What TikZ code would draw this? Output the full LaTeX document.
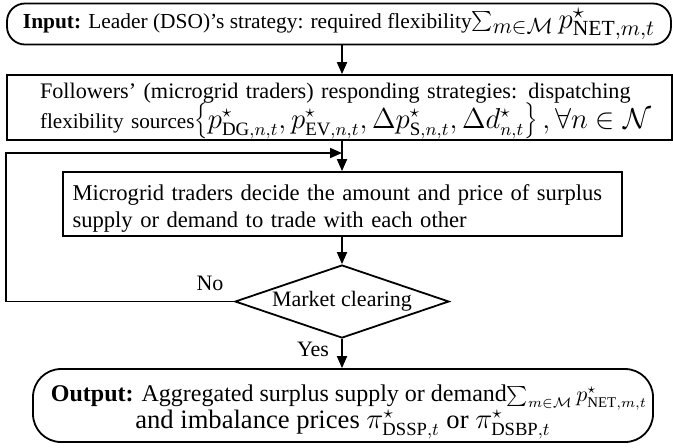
\documentclass[tikz,border=0pt]{standalone}
\usepackage{fontspec}
\setmainfont{Liberation Serif}
\usetikzlibrary{arrows.meta,shapes.geometric}
\newcommand{\fs}[2]{\fontsize{#1}{#2}\selectfont}
\begin{document}
\begin{tikzpicture}[x=0.5pt,y=-0.5pt,
  font=\fs{11}{13},
  box/.style={draw, line width=0.9pt},
  terminal/.style={box, rounded corners=#1},
  decision/.style={draw, diamond, line width=0.9pt, inner sep=0pt,
    shape aspect=2.9, minimum width=107pt, minimum height=36.5pt},
  flow/.style={-{Triangle[length=6pt,width=5pt]}, line width=0.9pt},
  tag/.style={inner sep=0pt}]
\useasboundingbox (0,0) rectangle (673,447);

% boxes of the flow chart
\node[terminal=9pt, minimum width=332pt, minimum height=20.5pt, inner ysep=0pt, inner xsep=2pt,
      font=\fs{10.7}{13}] (input) at (339,24)
  {\textbf{Input:} Leader (DSO)'s strategy: required flexibility{\fs{15.4}{16}$\sum_{m\in\mathcal{M}} p^{\star}_{\mathrm{NET},m,t}$}};

\node[box, minimum width=332.5pt, minimum height=32.5pt, text width=299.5pt, inner xsep=16.5pt,
      inner ysep=0pt, align=left, font=\fs{11.1}{13}] (fol) at (339.5,107.5)
  {\rule{0pt}{11pt}Followers' (microgrid traders) responding strategies: dispatching\\[-1pt]
   \mbox{{\fs{10.6}{13}flexibility sources}{\fs{13.5}{15}$\left\{p^{\star}_{\mathrm{DG},n,t}, p^{\star}_{\mathrm{EV},n,t}, \Delta p^{\star}_{\mathrm{S},n,t}, \Delta d^{\star}_{n,t}\right\}, \forall n\in\mathcal{N}$}}};

\node[box, minimum width=279.5pt, minimum height=32pt, text width=270pt, inner xsep=4.75pt,
      inner ysep=0pt, align=left, font=\fs{11.3}{13.5}] (mg) at (342.5,204)
  {\rule{0pt}{12pt}Microgrid traders decide the amount and price of surplus\\
   supply or demand to trade with each other};

\node[decision] (mkt) at (342,301.5) {Market clearing};

\node[terminal=14pt, minimum width=310pt, minimum height=36.5pt, inner ysep=0pt, inner xsep=1pt,
      align=center, font=\fs{12}{14}] (out) at (343,405.5)
  {\rule{0pt}{15pt}\hspace*{6pt}\textbf{Output:} Aggregated surplus supply or demand{\fs{10.6}{14}$\sum_{m\in\mathcal{M}} p^{\star}_{\mathrm{NET},m,t}$}\\[-0.5pt]
   {\fs{13.3}{15}and imbalance prices $\pi^{\star}_{\mathrm{DSSP},t}$ or $\pi^{\star}_{\mathrm{DSBP},t}$}};

% connectors
\draw[flow] (input.south -| mkt) -- (fol.north -| mkt);
\draw[flow] (fol.south -| mkt) -- (mg.north -| mkt);
\draw[flow] (mg.south -| mkt) -- (mkt.north);
\draw[flow] (mkt.south) -- (out.north -| mkt);

% feedback loop when the market does not clear
\coordinate (loopc) at (6,153);
\draw[flow] (mkt.west) -- (mkt.west -| loopc) -- (loopc) -- (loopc -| mkt);

\node[tag] (no) at (210,283) {No};
\node[tag] (yes) at (313,349) {Yes};
\end{tikzpicture}
\end{document}
